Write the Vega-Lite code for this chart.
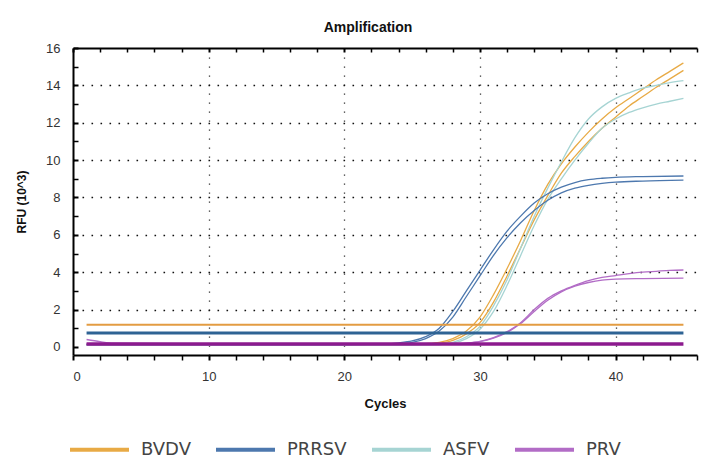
{
  "$schema": "https://vega.github.io/schema/vega-lite/v6.json",
  "width": 624,
  "height": 307,
  "autosize": {"type": "none"},
  "padding": {"left": 73, "top": 48, "right": 4, "bottom": 104},
  "background": "white",
  "config": {"view": {"stroke": null}, "font": "Liberation Sans"},
  "title": {"text": "Amplification", "font": "Liberation Sans", "fontSize": 14, "fontWeight": "bold", "color": "#111", "offset": 7, "dx": -17, "anchor": "middle"},
  "datasets": {
    "curves": [
      {"target":"BVDV","curve":"BVDV-1","cycle":1,"rfu":0.15},{"target":"BVDV","curve":"BVDV-1","cycle":10,"rfu":0.15},{"target":"BVDV","curve":"BVDV-1","cycle":20,"rfu":0.15},{"target":"BVDV","curve":"BVDV-1","cycle":25,"rfu":0.15},{"target":"BVDV","curve":"BVDV-1","cycle":26,"rfu":0.18},{"target":"BVDV","curve":"BVDV-1","cycle":27,"rfu":0.25},{"target":"BVDV","curve":"BVDV-1","cycle":28,"rfu":0.45},{"target":"BVDV","curve":"BVDV-1","cycle":29,"rfu":0.85},{"target":"BVDV","curve":"BVDV-1","cycle":30,"rfu":1.6},{"target":"BVDV","curve":"BVDV-1","cycle":31,"rfu":2.8},{"target":"BVDV","curve":"BVDV-1","cycle":32,"rfu":4.2},{"target":"BVDV","curve":"BVDV-1","cycle":33,"rfu":5.7},{"target":"BVDV","curve":"BVDV-1","cycle":34,"rfu":7.3},{"target":"BVDV","curve":"BVDV-1","cycle":35,"rfu":8.7},{"target":"BVDV","curve":"BVDV-1","cycle":36,"rfu":9.8},{"target":"BVDV","curve":"BVDV-1","cycle":37,"rfu":10.7},{"target":"BVDV","curve":"BVDV-1","cycle":38,"rfu":11.5},{"target":"BVDV","curve":"BVDV-1","cycle":39,"rfu":12.2},{"target":"BVDV","curve":"BVDV-1","cycle":40,"rfu":12.8},{"target":"BVDV","curve":"BVDV-1","cycle":41,"rfu":13.3},{"target":"BVDV","curve":"BVDV-1","cycle":42,"rfu":13.8},{"target":"BVDV","curve":"BVDV-1","cycle":43,"rfu":14.3},{"target":"BVDV","curve":"BVDV-1","cycle":44,"rfu":14.75},{"target":"BVDV","curve":"BVDV-1","cycle":45,"rfu":15.2},
      {"target":"BVDV","curve":"BVDV-2","cycle":1,"rfu":0.12},{"target":"BVDV","curve":"BVDV-2","cycle":20,"rfu":0.12},{"target":"BVDV","curve":"BVDV-2","cycle":26,"rfu":0.14},{"target":"BVDV","curve":"BVDV-2","cycle":27,"rfu":0.2},{"target":"BVDV","curve":"BVDV-2","cycle":28,"rfu":0.35},{"target":"BVDV","curve":"BVDV-2","cycle":29,"rfu":0.7},{"target":"BVDV","curve":"BVDV-2","cycle":30,"rfu":1.3},{"target":"BVDV","curve":"BVDV-2","cycle":31,"rfu":2.4},{"target":"BVDV","curve":"BVDV-2","cycle":32,"rfu":3.8},{"target":"BVDV","curve":"BVDV-2","cycle":33,"rfu":5.3},{"target":"BVDV","curve":"BVDV-2","cycle":34,"rfu":6.8},{"target":"BVDV","curve":"BVDV-2","cycle":35,"rfu":8.1},{"target":"BVDV","curve":"BVDV-2","cycle":36,"rfu":9.3},{"target":"BVDV","curve":"BVDV-2","cycle":37,"rfu":10.2},{"target":"BVDV","curve":"BVDV-2","cycle":38,"rfu":11.0},{"target":"BVDV","curve":"BVDV-2","cycle":39,"rfu":11.7},{"target":"BVDV","curve":"BVDV-2","cycle":40,"rfu":12.3},{"target":"BVDV","curve":"BVDV-2","cycle":41,"rfu":12.9},{"target":"BVDV","curve":"BVDV-2","cycle":42,"rfu":13.4},{"target":"BVDV","curve":"BVDV-2","cycle":43,"rfu":13.9},{"target":"BVDV","curve":"BVDV-2","cycle":44,"rfu":14.35},{"target":"BVDV","curve":"BVDV-2","cycle":45,"rfu":14.8},
      {"target":"ASFV","curve":"ASFV-1","cycle":1,"rfu":0.1},{"target":"ASFV","curve":"ASFV-1","cycle":20,"rfu":0.1},{"target":"ASFV","curve":"ASFV-1","cycle":27,"rfu":0.12},{"target":"ASFV","curve":"ASFV-1","cycle":28,"rfu":0.25},{"target":"ASFV","curve":"ASFV-1","cycle":29,"rfu":0.55},{"target":"ASFV","curve":"ASFV-1","cycle":30,"rfu":1.1},{"target":"ASFV","curve":"ASFV-1","cycle":31,"rfu":2.2},{"target":"ASFV","curve":"ASFV-1","cycle":32,"rfu":3.6},{"target":"ASFV","curve":"ASFV-1","cycle":33,"rfu":5.3},{"target":"ASFV","curve":"ASFV-1","cycle":34,"rfu":7.0},{"target":"ASFV","curve":"ASFV-1","cycle":35,"rfu":8.5},{"target":"ASFV","curve":"ASFV-1","cycle":36,"rfu":9.9},{"target":"ASFV","curve":"ASFV-1","cycle":37,"rfu":11.2},{"target":"ASFV","curve":"ASFV-1","cycle":38,"rfu":12.2},{"target":"ASFV","curve":"ASFV-1","cycle":39,"rfu":12.85},{"target":"ASFV","curve":"ASFV-1","cycle":40,"rfu":13.3},{"target":"ASFV","curve":"ASFV-1","cycle":41,"rfu":13.6},{"target":"ASFV","curve":"ASFV-1","cycle":42,"rfu":13.85},{"target":"ASFV","curve":"ASFV-1","cycle":43,"rfu":14.0},{"target":"ASFV","curve":"ASFV-1","cycle":44,"rfu":14.15},{"target":"ASFV","curve":"ASFV-1","cycle":45,"rfu":14.25},
      {"target":"ASFV","curve":"ASFV-2","cycle":1,"rfu":0.1},{"target":"ASFV","curve":"ASFV-2","cycle":20,"rfu":0.1},{"target":"ASFV","curve":"ASFV-2","cycle":27,"rfu":0.12},{"target":"ASFV","curve":"ASFV-2","cycle":28,"rfu":0.2},{"target":"ASFV","curve":"ASFV-2","cycle":29,"rfu":0.45},{"target":"ASFV","curve":"ASFV-2","cycle":30,"rfu":0.95},{"target":"ASFV","curve":"ASFV-2","cycle":31,"rfu":1.9},{"target":"ASFV","curve":"ASFV-2","cycle":32,"rfu":3.3},{"target":"ASFV","curve":"ASFV-2","cycle":33,"rfu":4.9},{"target":"ASFV","curve":"ASFV-2","cycle":34,"rfu":6.5},{"target":"ASFV","curve":"ASFV-2","cycle":35,"rfu":7.9},{"target":"ASFV","curve":"ASFV-2","cycle":36,"rfu":9.0},{"target":"ASFV","curve":"ASFV-2","cycle":37,"rfu":10.0},{"target":"ASFV","curve":"ASFV-2","cycle":38,"rfu":10.9},{"target":"ASFV","curve":"ASFV-2","cycle":39,"rfu":11.7},{"target":"ASFV","curve":"ASFV-2","cycle":40,"rfu":12.2},{"target":"ASFV","curve":"ASFV-2","cycle":41,"rfu":12.55},{"target":"ASFV","curve":"ASFV-2","cycle":42,"rfu":12.8},{"target":"ASFV","curve":"ASFV-2","cycle":43,"rfu":13.0},{"target":"ASFV","curve":"ASFV-2","cycle":44,"rfu":13.15},{"target":"ASFV","curve":"ASFV-2","cycle":45,"rfu":13.3},
      {"target":"PRRSV","curve":"PRRSV-1","cycle":1,"rfu":0.15},{"target":"PRRSV","curve":"PRRSV-1","cycle":20,"rfu":0.15},{"target":"PRRSV","curve":"PRRSV-1","cycle":23,"rfu":0.17},{"target":"PRRSV","curve":"PRRSV-1","cycle":24,"rfu":0.22},{"target":"PRRSV","curve":"PRRSV-1","cycle":25,"rfu":0.32},{"target":"PRRSV","curve":"PRRSV-1","cycle":26,"rfu":0.55},{"target":"PRRSV","curve":"PRRSV-1","cycle":27,"rfu":1.0},{"target":"PRRSV","curve":"PRRSV-1","cycle":28,"rfu":1.9},{"target":"PRRSV","curve":"PRRSV-1","cycle":29,"rfu":3.0},{"target":"PRRSV","curve":"PRRSV-1","cycle":30,"rfu":4.1},{"target":"PRRSV","curve":"PRRSV-1","cycle":31,"rfu":5.2},{"target":"PRRSV","curve":"PRRSV-1","cycle":32,"rfu":6.2},{"target":"PRRSV","curve":"PRRSV-1","cycle":33,"rfu":7.0},{"target":"PRRSV","curve":"PRRSV-1","cycle":34,"rfu":7.7},{"target":"PRRSV","curve":"PRRSV-1","cycle":35,"rfu":8.2},{"target":"PRRSV","curve":"PRRSV-1","cycle":36,"rfu":8.55},{"target":"PRRSV","curve":"PRRSV-1","cycle":37,"rfu":8.8},{"target":"PRRSV","curve":"PRRSV-1","cycle":38,"rfu":8.95},{"target":"PRRSV","curve":"PRRSV-1","cycle":39,"rfu":9.03},{"target":"PRRSV","curve":"PRRSV-1","cycle":40,"rfu":9.08},{"target":"PRRSV","curve":"PRRSV-1","cycle":42,"rfu":9.12},{"target":"PRRSV","curve":"PRRSV-1","cycle":45,"rfu":9.15},
      {"target":"PRRSV","curve":"PRRSV-2","cycle":1,"rfu":0.13},{"target":"PRRSV","curve":"PRRSV-2","cycle":20,"rfu":0.13},{"target":"PRRSV","curve":"PRRSV-2","cycle":23,"rfu":0.14},{"target":"PRRSV","curve":"PRRSV-2","cycle":24,"rfu":0.17},{"target":"PRRSV","curve":"PRRSV-2","cycle":25,"rfu":0.25},{"target":"PRRSV","curve":"PRRSV-2","cycle":26,"rfu":0.45},{"target":"PRRSV","curve":"PRRSV-2","cycle":27,"rfu":0.85},{"target":"PRRSV","curve":"PRRSV-2","cycle":28,"rfu":1.6},{"target":"PRRSV","curve":"PRRSV-2","cycle":29,"rfu":2.7},{"target":"PRRSV","curve":"PRRSV-2","cycle":30,"rfu":3.8},{"target":"PRRSV","curve":"PRRSV-2","cycle":31,"rfu":4.9},{"target":"PRRSV","curve":"PRRSV-2","cycle":32,"rfu":5.85},{"target":"PRRSV","curve":"PRRSV-2","cycle":33,"rfu":6.65},{"target":"PRRSV","curve":"PRRSV-2","cycle":34,"rfu":7.3},{"target":"PRRSV","curve":"PRRSV-2","cycle":35,"rfu":7.85},{"target":"PRRSV","curve":"PRRSV-2","cycle":36,"rfu":8.25},{"target":"PRRSV","curve":"PRRSV-2","cycle":37,"rfu":8.5},{"target":"PRRSV","curve":"PRRSV-2","cycle":38,"rfu":8.65},{"target":"PRRSV","curve":"PRRSV-2","cycle":39,"rfu":8.75},{"target":"PRRSV","curve":"PRRSV-2","cycle":40,"rfu":8.82},{"target":"PRRSV","curve":"PRRSV-2","cycle":42,"rfu":8.88},{"target":"PRRSV","curve":"PRRSV-2","cycle":45,"rfu":8.93},
      {"target":"PRV","curve":"PRV-1","cycle":1,"rfu":0.4},{"target":"PRV","curve":"PRV-1","cycle":2,"rfu":0.28},{"target":"PRV","curve":"PRV-1","cycle":3,"rfu":0.2},{"target":"PRV","curve":"PRV-1","cycle":10,"rfu":0.17},{"target":"PRV","curve":"PRV-1","cycle":20,"rfu":0.17},{"target":"PRV","curve":"PRV-1","cycle":28,"rfu":0.17},{"target":"PRV","curve":"PRV-1","cycle":29,"rfu":0.21},{"target":"PRV","curve":"PRV-1","cycle":30,"rfu":0.3},{"target":"PRV","curve":"PRV-1","cycle":31,"rfu":0.5},{"target":"PRV","curve":"PRV-1","cycle":32,"rfu":0.82},{"target":"PRV","curve":"PRV-1","cycle":33,"rfu":1.3},{"target":"PRV","curve":"PRV-1","cycle":34,"rfu":2.0},{"target":"PRV","curve":"PRV-1","cycle":35,"rfu":2.6},{"target":"PRV","curve":"PRV-1","cycle":36,"rfu":3.0},{"target":"PRV","curve":"PRV-1","cycle":37,"rfu":3.3},{"target":"PRV","curve":"PRV-1","cycle":38,"rfu":3.55},{"target":"PRV","curve":"PRV-1","cycle":39,"rfu":3.72},{"target":"PRV","curve":"PRV-1","cycle":40,"rfu":3.82},{"target":"PRV","curve":"PRV-1","cycle":41,"rfu":3.92},{"target":"PRV","curve":"PRV-1","cycle":42,"rfu":4.0},{"target":"PRV","curve":"PRV-1","cycle":43,"rfu":4.05},{"target":"PRV","curve":"PRV-1","cycle":44,"rfu":4.1},{"target":"PRV","curve":"PRV-1","cycle":45,"rfu":4.12},
      {"target":"PRV","curve":"PRV-2","cycle":1,"rfu":0.15},{"target":"PRV","curve":"PRV-2","cycle":20,"rfu":0.15},{"target":"PRV","curve":"PRV-2","cycle":28,"rfu":0.15},{"target":"PRV","curve":"PRV-2","cycle":29,"rfu":0.19},{"target":"PRV","curve":"PRV-2","cycle":30,"rfu":0.28},{"target":"PRV","curve":"PRV-2","cycle":31,"rfu":0.47},{"target":"PRV","curve":"PRV-2","cycle":32,"rfu":0.78},{"target":"PRV","curve":"PRV-2","cycle":33,"rfu":1.25},{"target":"PRV","curve":"PRV-2","cycle":34,"rfu":1.9},{"target":"PRV","curve":"PRV-2","cycle":35,"rfu":2.5},{"target":"PRV","curve":"PRV-2","cycle":36,"rfu":2.95},{"target":"PRV","curve":"PRV-2","cycle":37,"rfu":3.25},{"target":"PRV","curve":"PRV-2","cycle":38,"rfu":3.45},{"target":"PRV","curve":"PRV-2","cycle":39,"rfu":3.58},{"target":"PRV","curve":"PRV-2","cycle":40,"rfu":3.63},{"target":"PRV","curve":"PRV-2","cycle":42,"rfu":3.66},{"target":"PRV","curve":"PRV-2","cycle":45,"rfu":3.68}
    ],
    "thresholds": [
      {"target":"BVDV","cycle":1,"rfu":1.19},{"target":"BVDV","cycle":45,"rfu":1.19},
      {"target":"PRRSV","cycle":1,"rfu":0.75},{"target":"PRRSV","cycle":45,"rfu":0.75},
      {"target":"PRV","cycle":1,"rfu":0.16},{"target":"PRV","cycle":45,"rfu":0.16}
    ]
  },
  "layer": [
    {
      "data": {"name": "curves"},
      "mark": {"type": "line", "interpolate": "monotone", "strokeWidth": 1.3},
      "encoding": {
        "x": {
          "field": "cycle", "type": "quantitative",
          "scale": {"domain": [0, 46], "nice": false, "zero": false},
          "axis": {
            "orient": "bottom", "title": "Cycles", "tickCount": 200, "labelOverlap": false, "format": "d",
            "values": [0,2,4,6,8,10,12,14,16,18,20,22,24,26,28,30,32,34,36,38,40,42,44,46],
            "labelExpr": "datum.value % 10 === 0 ? datum.label : ''",
            "labelFont": "Liberation Sans", "labelFontSize": 13, "labelColor": "#333", "labelPadding": 10,
            "titleFont": "Liberation Sans", "titleFontSize": 13, "titleFontWeight": "bold", "titleColor": "#111", "titlePadding": 14,
            "domainColor": "#000", "domainWidth": 2,
            "tickColor": "#000", "tickSize": 5,
            "tickWidth": {"condition": {"test": "datum.value % 10 === 0", "value": 2}, "value": 1.5},
            "grid": true, "gridColor": "#333", "gridWidth": 1.3, "gridDash": [1.3, 7.7],
            "gridOpacity": {"condition": {"test": "datum.value % 10 === 0 && datum.value > 0", "value": 1}, "value": 0}
          }
        },
        "y": {
          "field": "rfu", "type": "quantitative",
          "scale": {"domain": [-0.43, 16], "nice": false, "zero": false},
          "axis": {
            "title": "RFU (10^3)", "tickCount": 200, "labelOverlap": false, "format": "d",
            "values": [0,0.5,1,1.5,2,2.5,3,3.5,4,4.5,5,5.5,6,6.5,7,7.5,8,8.5,9,9.5,10,10.5,11,11.5,12,12.5,13,13.5,14,14.5,15,15.5,16],
            "labelExpr": "datum.value % 2 === 0 ? datum.label : ''",
            "labelFont": "Liberation Sans", "labelFontSize": 13, "labelColor": "#333", "labelPadding": 18,
            "titleFont": "Liberation Sans", "titleFontSize": 12, "titleFontWeight": "bold", "titleColor": "#111", "titlePadding": 17,
            "domainColor": "#000", "domainWidth": 2,
            "tickColor": "#000", "tickSize": -5,
            "tickWidth": {"condition": {"test": "datum.value % 2 === 0", "value": 2}, "value": 1.5},
            "grid": true, "gridColor": "#111", "gridWidth": 1.6, "gridDash": [1.6, 7.4],
            "gridOpacity": {"condition": {"test": "datum.value % 2 === 0 && datum.value > 0 && datum.value < 16", "value": 1}, "value": 0}
          }
        },
        "color": {
          "field": "target", "type": "nominal",
          "scale": {"domain": ["BVDV", "PRRSV", "ASFV", "PRV"], "range": ["#E8AA45", "#4D78AE", "#A6D4D3", "#B26CC6"]},
          "legend": {
            "orient": "none", "legendX": -5, "legendY": 370, "direction": "horizontal", "columns": 4,
            "title": null, "symbolType": "stroke", "symbolSize": 3481, "symbolStrokeWidth": 4,
            "labelFont": "DejaVu Sans", "labelFontSize": 18, "labelColor": "#444", "labelOffset": 10, "columnPadding": 17
          }
        },
        "detail": {"field": "curve", "type": "nominal"}
      }
    },
    {
      "data": {"name": "thresholds"},
      "mark": {"type": "line"},
      "encoding": {
        "x": {
          "field": "cycle", "type": "quantitative",
          "axis": {
            "orient": "top", "title": null, "labels": false, "tickCount": 200,
            "values": [0,2,4,6,8,10,12,14,16,18,20,22,24,26,28,30,32,34,36,38,40,42,44,46],
            "domainColor": "#000", "domainWidth": 2, "tickColor": "#000", "tickSize": -4,
            "tickWidth": {"condition": {"test": "datum.value % 10 === 0", "value": 2}, "value": 1.5},
            "grid": false
          }
        },
        "y": {"field": "rfu", "type": "quantitative"},
        "color": {
          "field": "target", "type": "nominal",
          "scale": {"domain": ["BVDV", "PRRSV", "PRV"], "range": ["#E39C42", "#2E6394", "#8C1A8E"]},
          "legend": null
        },
        "strokeWidth": {
          "field": "target", "type": "nominal",
          "scale": {"domain": ["BVDV", "PRRSV", "PRV"], "range": [2.2, 3.5, 5]},
          "legend": null
        }
      }
    }
  ],
  "resolve": {"scale": {"color": "independent"}, "axis": {"x": "independent"}}
}
